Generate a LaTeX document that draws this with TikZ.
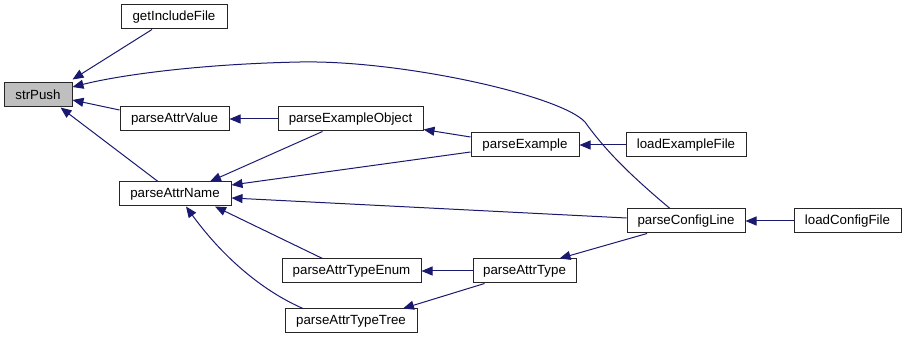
\documentclass[tikz,border=0pt]{standalone}
\usepackage{fontspec}
\setmainfont{Liberation Sans}
\usetikzlibrary{arrows.meta}
\definecolor{edgeblue}{HTML}{191970}
\definecolor{rootgray}{HTML}{BFBFBF}
\begin{document}
\begin{tikzpicture}[x=1pt,y=-1pt,
  fn/.style={draw=black!85, line width=1pt, fill=white, minimum height=24pt,
    inner sep=0pt, font=\fontsize{13.3}{16}\selectfont},
  call/.style={draw=edgeblue, line width=1pt,
    -{Triangle[length=11pt,width=9pt]}, edgeblue}]
\useasboundingbox (0,0) rectangle (906,339);
% functions
\node[fn, fill=rootgray, minimum width=68pt] (sp)  at (38,95)   {strPush};
\node[fn, minimum width=106pt] (gi)  at (174,17)  {getIncludeFile};
\node[fn, minimum width=109pt] (pav) at (174.5,119) {parseAttrValue};
\node[fn, minimum width=112pt] (pan) at (175,194) {parseAttrName};
\node[fn, minimum width=145pt] (peo) at (350.5,119) {parseExampleObject};
\node[fn, minimum width=108pt] (pe)  at (525,145) {parseExample};
\node[fn, minimum width=120pt] (lef) at (686,145) {loadExampleFile};
\node[fn, minimum width=118pt] (pcl) at (686,221) {parseConfigLine};
\node[fn, minimum width=107pt] (lcf) at (847.5,221) {loadConfigFile};
\node[fn, minimum width=139pt] (pae) at (351.5,271) {parseAttrTypeEnum};
\node[fn, minimum width=132pt] (pat) at (351,321) {parseAttrTypeTree};
\node[fn, minimum width=103pt] (pa)  at (524.5,271) {parseAttrType};
% calls (caller -> callee)
\draw[call] ([xshift=-22pt]gi.south) -- ([yshift=3pt]sp.north east);
\draw[call] ([xshift=-16pt]pcl.north)
  .. controls (630,175) and (605,150) .. (585,122)
  .. controls (560,95) and (400,60) .. (300,62)
  .. controls (200,64) and (120,75) .. ([yshift=8pt]sp.east);
\draw[call] ([yshift=9pt]pav.west) -- ([yshift=-5pt]sp.east);
\draw[call] ([xshift=-17pt]pan.north) -- ([xshift=-12pt]sp.south east);
\draw[call] (peo.west) -- (pav.east);
\draw[call] ([xshift=-28pt]peo.south) -- ([xshift=35pt]pan.north);
\draw[call] ([yshift=8pt]pe.west) -- ([yshift=2pt]peo.south east);
\draw[call] ([yshift=-7pt]pe.west) -- ([yshift=9pt]pan.east);
\draw[call] (lef.west) -- (pe.east);
\draw[call] ([yshift=3pt]pcl.west) -- ([yshift=-4pt]pan.east);
\draw[call] (lcf.west) -- (pcl.east);
\draw[call] ([xshift=-29pt]pae.north) -- ([xshift=40pt]pan.south);
\draw[call] ([xshift=-48pt]pat.north)
  .. controls (265,292) and (225,260) .. ([xshift=11pt]pan.south);
\draw[call] (pa.west) -- (pae.east);
\draw[call] ([xshift=-40pt]pa.south) -- ([xshift=52pt]pat.north);
\draw[call] ([xshift=-39pt]pcl.south) -- ([xshift=35pt]pa.north);
\end{tikzpicture}
\end{document}
